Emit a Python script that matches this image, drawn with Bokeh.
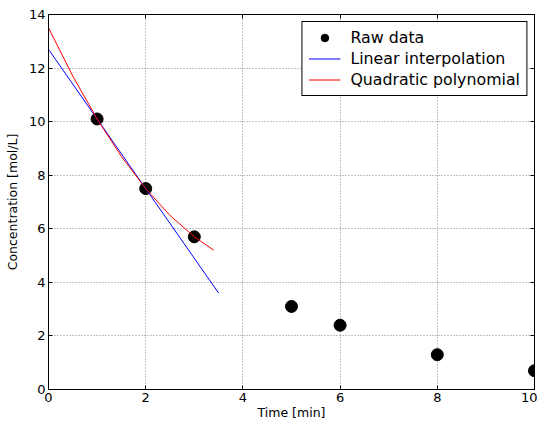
from bokeh.plotting import figure
from bokeh.models import Range1d, LinearAxis, FixedTicker, Legend, LegendItem
from bokeh.embed import file_html
from bokeh.resources import INLINE

# Raw data
time_raw = [1, 2, 3, 5, 6, 8, 10]
conc_raw = [10.1, 7.5, 5.7, 3.1, 2.4, 1.3, 0.7]

# Linear interpolation line
lin_x = [0.0, 3.5]
lin_y = [12.7, 3.6]

# Quadratic polynomial curve
quad_x = [0.0, 0.5, 1.0, 1.5, 2.0, 2.5, 3.0, 3.4]
quad_y = [13.5, 11.7, 10.1, 8.7, 7.5, 6.5, 5.7, 5.2]

x_ticks = [0, 2, 4, 6, 8, 10]
y_ticks = [0, 2, 4, 6, 8, 10, 12, 14]

FONT = "DejaVu Sans"

p = figure(width=537, height=422, output_backend="svg", toolbar_location=None,
           x_range=Range1d(0, 10), y_range=Range1d(0, 14),
           min_border_left=48, min_border_top=14, min_border_right=3, min_border_bottom=33)

p.outline_line_color = "black"
p.outline_line_width = 1
p.background_fill_color = "white"
p.border_fill_color = "white"

r_raw = p.scatter(time_raw, conc_raw, size=12, color="black")
r_lin = p.line(lin_x, lin_y, line_color="blue", line_width=1)
r_quad = p.line(quad_x, quad_y, line_color="red", line_width=1)

p.add_layout(LinearAxis(), "right")
p.add_layout(LinearAxis(), "above")

for ax in p.axis:
    ax.major_tick_in = 4
    ax.major_tick_out = 0
    ax.minor_tick_in = 0
    ax.minor_tick_out = 0
    ax.axis_line_color = "black"
    ax.major_label_text_font = FONT
    ax.major_label_text_font_size = "13px"
    ax.major_label_text_color = "black"
    ax.axis_label_text_font = FONT
    ax.axis_label_text_font_size = "12.5px"
    ax.axis_label_text_font_style = "normal"
    ax.axis_label_text_color = "black"

p.xaxis.ticker = FixedTicker(ticks=x_ticks)
p.yaxis.ticker = FixedTicker(ticks=y_ticks)

p.right[0].major_label_overrides = {t: "" for t in y_ticks}
p.above[0].major_label_overrides = {t: "" for t in x_ticks}
for ax in p.right + p.above:
    ax.major_label_standoff = 0

p.below[0].axis_label = "Time [min]"
p.left[0].axis_label = "Concentration [mol/L]"
p.below[0].major_label_standoff = 3
p.left[0].major_label_standoff = 3
p.below[0].axis_label_standoff = 0
p.left[0].axis_label_standoff = 6

p.xgrid.ticker = FixedTicker(ticks=x_ticks)
p.ygrid.ticker = FixedTicker(ticks=y_ticks)
for g in (p.xgrid[0], p.ygrid[0]):
    g.grid_line_color = "#555555"
    g.grid_line_dash = "1 2"
    g.grid_line_width = 0.7

legend = Legend(items=[
    LegendItem(label="Raw data", renderers=[r_raw]),
    LegendItem(label="Linear interpolation", renderers=[r_lin]),
    LegendItem(label="Quadratic polynomial", renderers=[r_quad]),
], location="top_right")
legend.label_text_font = FONT
legend.label_text_font_size = "15.8px"
legend.label_text_color = "black"
legend.border_line_color = "black"
legend.border_line_width = 1
legend.border_line_alpha = 1
legend.background_fill_alpha = 1
legend.margin = 7
legend.padding = 6
legend.spacing = 2
legend.label_height = 19
legend.glyph_height = 19
legend.glyph_width = 32
legend.label_standoff = 10
p.add_layout(legend)

open("out.html", "w").write(file_html(p, INLINE))
